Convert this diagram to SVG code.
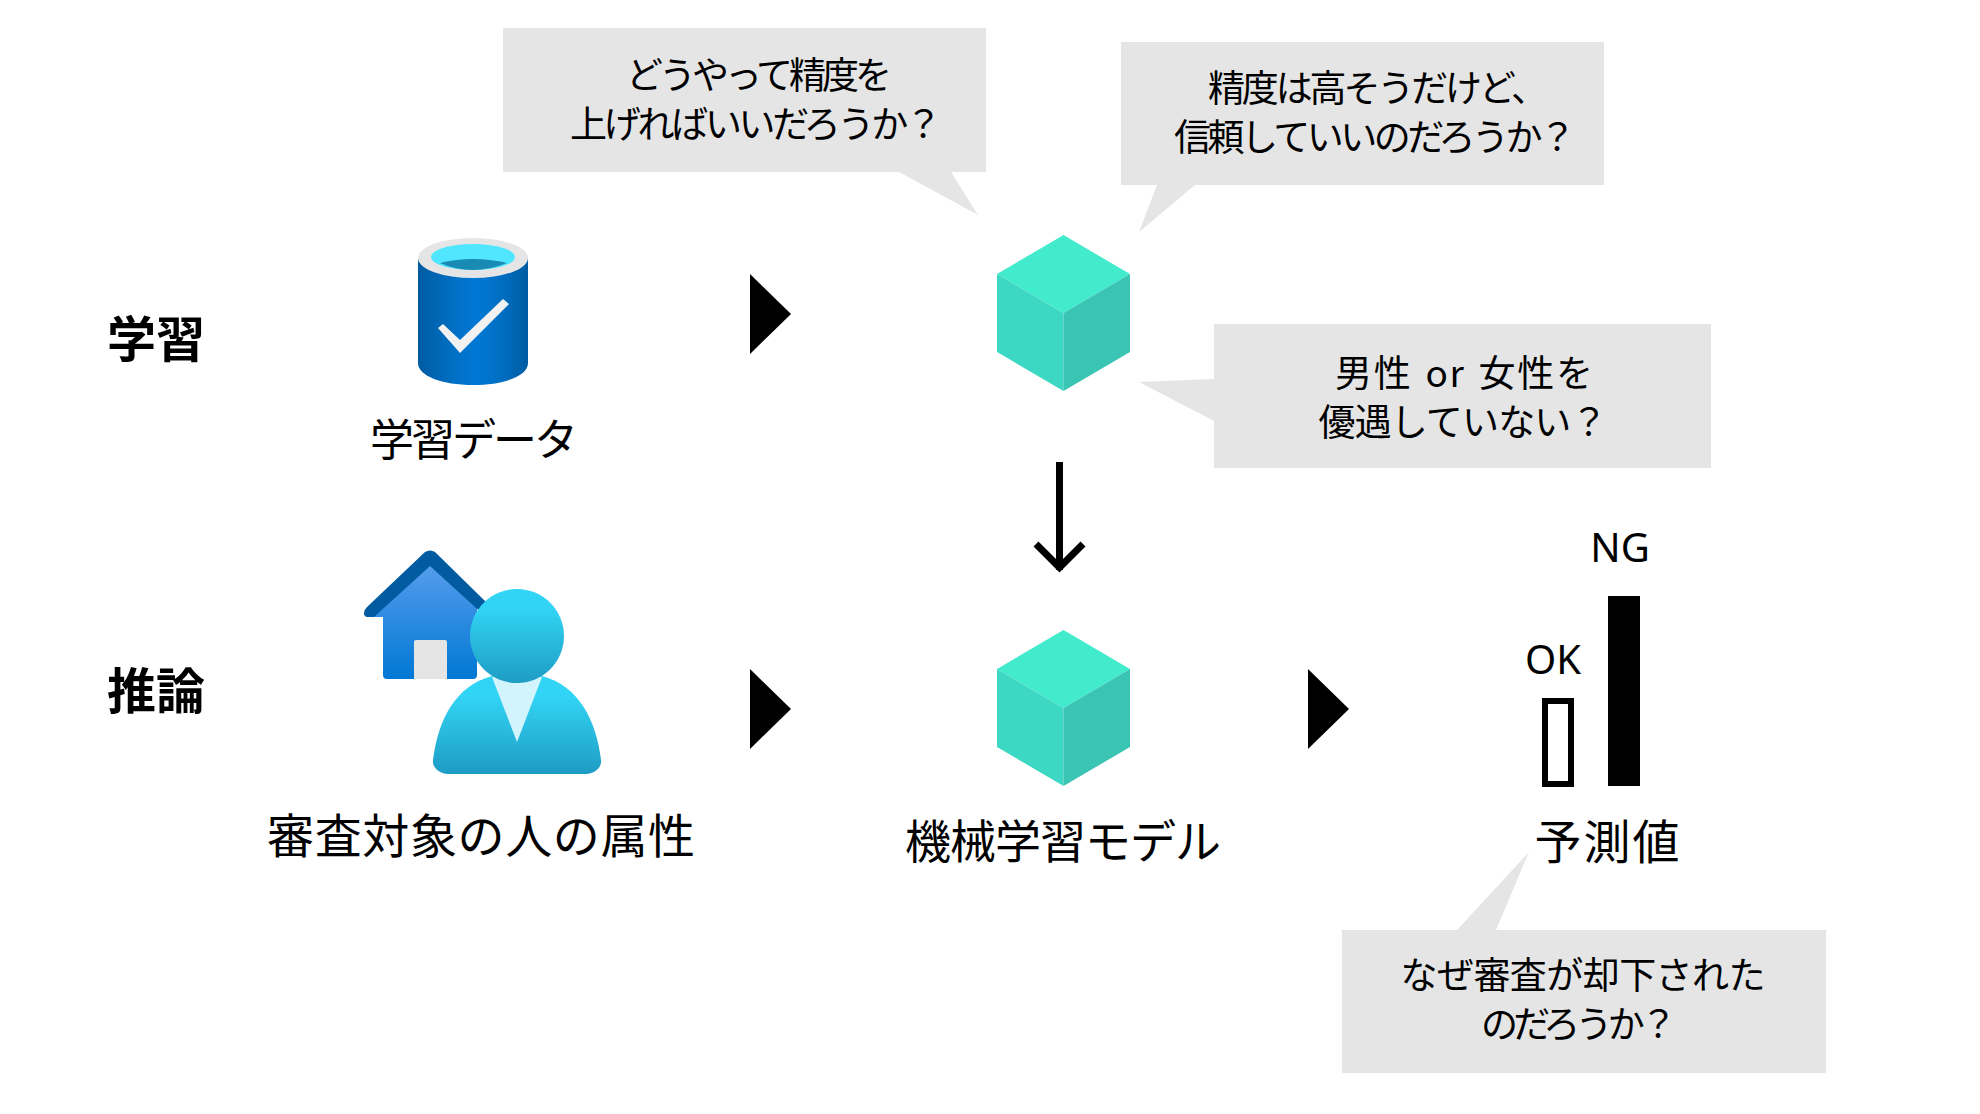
<svg xmlns="http://www.w3.org/2000/svg" width="1980" height="1114" viewBox="0 0 1980 1114">
<style>
text{font-family:"Noto Sans CJK JP","Noto Sans",sans-serif;fill:#000;text-anchor:middle}
.b{font-size:37px}.l{font-size:47px}.h{font-size:49px;font-weight:700}.v{font-family:"Noto Sans",sans-serif;font-size:40px}
.bub{fill:#e5e5e5}
</style>
<defs>
<linearGradient id="db" x1="0" x2="1" y1="0" y2="0"><stop offset="0" stop-color="#005ba1"/><stop offset=".07" stop-color="#0060a9"/><stop offset=".36" stop-color="#0071c8"/><stop offset=".52" stop-color="#0078d4"/><stop offset=".64" stop-color="#0074cd"/><stop offset=".82" stop-color="#006abb"/><stop offset="1" stop-color="#005ba1"/></linearGradient>
<linearGradient id="house" x1="0" x2="0" y1="0" y2="1"><stop offset="0" stop-color="#5ea0ef"/><stop offset="1" stop-color="#0078d4"/></linearGradient>
<linearGradient id="person" x1="0" x2="0" y1="0" y2="1"><stop offset="0" stop-color="#32d4f5"/><stop offset=".2" stop-color="#32d4f5"/><stop offset="1" stop-color="#1e9cc4"/></linearGradient>
<g id="cube"><polygon points="1063.5,0 1130,39 1063.5,78 997,39" fill="#42ebcc"/><polygon points="997,39 1063.5,78 1063.5,156 997,117" fill="#3dd8c4"/><polygon points="1130,39 1063.5,78 1063.5,156 1130,117" fill="#3ac4b4"/></g>
<polygon id="tri" points="0,0 41,40 0,80" fill="#000"/>
</defs>
<rect width="1980" height="1114" fill="#fff"/>

<g id="connectors">
<use href="#tri" x="750" y="274"/>
<use href="#tri" x="750" y="669"/>
<use href="#tri" x="1308" y="669"/>
<path d="M1059.5 462V570M1036 544L1059.5 567.500L1083 544" fill="none" stroke="#000" stroke-width="7"/>
</g>

<g id="label-train"><text class="h" x="156" y="357">学習</text></g>
<g id="label-infer"><text class="h" x="156" y="709">推論</text></g>

<g id="node-train-data">
<path d="M418 258H528V363C528 376 504 385 473 385C442 385 418 376 418 363Z" fill="url(#db)"/>
<ellipse cx="473" cy="258" rx="55" ry="20" fill="#e5e5e5"/>
<ellipse cx="473" cy="257" rx="42" ry="13" fill="#50e6ff"/>
<path d="M440 263Q473 255 507 263Q490 270 473 270Q455 270 440 263Z" fill="#198ab3"/>
<polygon points="438,328 443,324 460,340 503,299 509,304 460,353" fill="#f2f2f2"/>
<text class="l" x="474" y="456" style="font-size:44px" textLength="208">学習データ</text>
</g>

<g id="node-applicant">
<path d="M432 553L366 610Q362 616 368 617H383V675Q383 679 387 679H473Q477 679 477 675V600Z" fill="url(#house)"/>
<path d="M364 613Q364 617 368 617H374L430 566L486 617V602L435 552Q430 549 425 552L367 607Q364 610 364 613Z" fill="#005ba1"/>
<path d="M414 679V642Q414 640 416 640H445Q447 640 447 642V679Z" fill="#e5e5e5"/>
<path d="M492 676C455 686 438 720 433 760C432 768 440 774 448 774H586C594 774 602 768 601 760C596 720 579 686 542 676Z" fill="url(#person)"/>
<polygon points="492,677 542,677 517,742" fill="#d2f5fd"/>
<circle cx="517" cy="636" r="47" fill="url(#person)"/>
<text class="l" x="481" y="853" textLength="428">審査対象の人の属性</text>
</g>

<g id="node-model-train"><use href="#cube" y="235"/></g>
<g id="node-model-infer"><use href="#cube" y="630"/><text class="l" x="1063" y="858" style="font-size:46px" textLength="316">機械学習モデル</text></g>

<g id="node-prediction">
<rect x="1545" y="701" width="26" height="83" fill="#fff" stroke="#000" stroke-width="6"/>
<rect x="1608" y="596" width="32" height="190" fill="#000"/>
<text class="v" x="1553" y="674">OK</text>
<text class="v" x="1620" y="562">NG</text>
<text class="l" x="1607" y="859" textLength="145">予測値</text>
</g>

<g id="bubble-1">
<polygon class="bub" points="503,28 986,28 986,172 951,172 978,215 899,172 503,172"/>
<text class="b" x="759" y="89" textLength="266">どうやって精度を</text>
<text class="b" x="756" y="138" textLength="372">上げればいいだろうか？</text>
</g>
<g id="bubble-2">
<polygon class="bub" points="1121,42 1604,42 1604,185 1195,185 1139,232 1157,185 1121,185"/>
<text class="b" x="1378" y="102" textLength="340">精度は高そうだけど、</text>
<text class="b" x="1375" y="151" textLength="402">信頼していいのだろうか？</text>
</g>
<g id="bubble-3">
<polygon class="bub" points="1214,324 1711,324 1711,468 1214,468 1214,421 1139,382 1214,379"/>
<text class="b" x="1464" y="387" textLength="258" style="word-spacing:3px">男性 or 女性を</text>
<text class="b" x="1463" y="436" textLength="289">優遇していない？</text>
</g>
<g id="bubble-4">
<polygon class="bub" points="1342,930 1457,930 1529,852 1496,930 1826,930 1826,1073 1342,1073"/>
<text class="b" x="1583" y="989" textLength="365">なぜ審査が却下された</text>
<text class="b" x="1579" y="1038" textLength="196">のだろうか？</text>
</g>
</svg>
